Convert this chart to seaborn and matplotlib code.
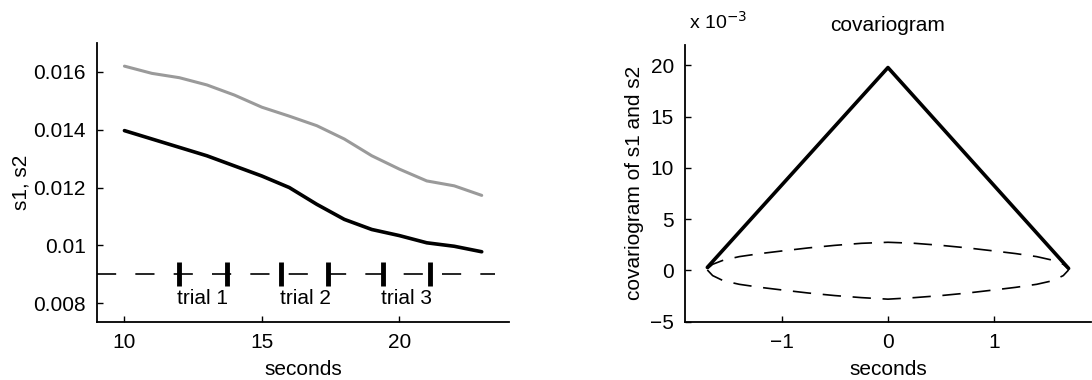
import pandas as pd
import matplotlib
matplotlib.use('Agg')
import matplotlib.pyplot as plt
import seaborn as sns

# Left panel: the two smoothed signals over time
seconds = [10, 11, 12, 13, 14, 15, 16, 17, 18, 19, 20, 21, 22, 23]
s1 = [0.01397, 0.01368, 0.01339, 0.01310, 0.01275, 0.01240, 0.01200, 0.01142,
      0.01090, 0.01055, 0.01034, 0.01009, 0.00997, 0.00978]
s2 = [0.01620, 0.01595, 0.01580, 0.01555, 0.01520, 0.01478, 0.01447, 0.01414,
      0.01368, 0.01310, 0.01264, 0.01223, 0.01206, 0.01173]

# trial boundaries on the baseline
baseline = 0.009
trial_edges = [12.0, 13.73, 15.7, 17.4, 19.4, 21.1]
trial_names = ['trial 1', 'trial 2', 'trial 3']
trial_label_x = [12.85, 16.6, 20.25]
trial_label_y = 0.00817

# Right panel: covariogram (x 1e-3) with dashed bounds
lag = [-1.7, 0.0, 1.7]
cov = [0.3, 19.8, 0.2]
bound_lag = [-1.7, -1.65, -1.55, -1.4, -1.2, -1.0, -0.75, -0.5, -0.25, 0.0,
             0.25, 0.5, 0.75, 1.0, 1.2, 1.4, 1.55, 1.65, 1.7]
bound_upper = [0.15, 0.6, 1.0, 1.35, 1.65, 1.9, 2.2, 2.45, 2.65, 2.75,
               2.65, 2.45, 2.2, 1.9, 1.65, 1.35, 1.0, 0.6, 0.15]
bound_lower = [0.05, -0.5, -1.0, -1.35, -1.65, -1.9, -2.2, -2.45, -2.65, -2.8,
               -2.65, -2.45, -2.2, -1.9, -1.65, -1.35, -1.0, -0.5, 0.05]

sns.set_style('ticks')
plt.rcParams['font.family'] = ['Liberation Sans', 'DejaVu Sans']
plt.rcParams['font.size'] = 15
plt.rcParams['xtick.direction'] = 'in'
plt.rcParams['ytick.direction'] = 'in'
plt.rcParams['axes.linewidth'] = 1.3
plt.rcParams['axes.edgecolor'] = 'black'
plt.rcParams['text.color'] = 'black'
plt.rcParams['axes.labelcolor'] = 'black'
plt.rcParams['xtick.color'] = 'black'
plt.rcParams['ytick.color'] = 'black'

fig = plt.figure(figsize=(10.92, 3.8), dpi=100)
ax1 = fig.add_axes([0.0888, 0.1526, 0.3775, 0.7342])
ax2 = fig.add_axes([0.6273, 0.1534, 0.3717, 0.7282])

# ---- left panel ----
df = pd.DataFrame({'seconds': seconds, 's1': s1, 's2': s2})
sns.lineplot(data=df, x='seconds', y='s2', ax=ax1, color='#9a9a9a', linewidth=2.2)
sns.lineplot(data=df, x='seconds', y='s1', ax=ax1, color='black', linewidth=2.6)
ax1.plot([9, 23.5], [baseline, baseline], color='black', linewidth=1.2,
         dashes=(11.5, 11.5))
sns.scatterplot(x=trial_edges, y=[baseline] * len(trial_edges), ax=ax1,
                marker='|', s=17 ** 2, linewidth=3.5, color='black')
for name, x in zip(trial_names, trial_label_x):
    ax1.text(x, trial_label_y, name, ha='center', va='center', fontsize=15)

ax1.set_xlim(9, 24)
ax1.set_ylim(0.00735, 0.0170)
ax1.set_xticks([10, 15, 20])
ax1.set_yticks([0.008, 0.01, 0.012, 0.014, 0.016])
ax1.set_yticklabels(['0.008', '0.01', '0.012', '0.014', '0.016'])
ax1.set_xlabel('seconds', fontsize=15, labelpad=6)
ax1.set_ylabel('s1, s2', fontsize=15, labelpad=2)
ax1.tick_params(length=4, width=1, pad=8)

# ---- right panel ----
sns.lineplot(x=lag, y=cov, ax=ax2, color='black', linewidth=2.6)
ax2.plot(bound_lag, bound_upper, color='black', linewidth=1.2, dashes=(11, 7))
ax2.plot(bound_lag, bound_lower, color='black', linewidth=1.2, dashes=(11, 7))

ax2.set_xlim(-1.91, 1.91)
ax2.set_ylim(-5, 22)
ax2.set_xticks([-1, 0, 1])
ax2.set_xticklabels(['\u22121', '0', '1'])
ax2.set_yticks([-5, 0, 5, 10, 15, 20])
ax2.set_yticklabels(['\u22125', '0', '5', '10', '15', '20'])
ax2.set_xlabel('seconds', fontsize=15, labelpad=6)
ax2.set_ylabel('covariogram of s1 and s2', fontsize=15)
ax2.set_title('covariogram', fontsize=15, pad=10)
ax2.text(0.01, 1.045, r'x 10$^{-3}$', transform=ax2.transAxes, fontsize=14,
         ha='left', va='bottom')
ax2.tick_params(length=4, width=1, pad=8)

sns.despine(fig=fig)
fig.savefig('out.png', dpi=100)
